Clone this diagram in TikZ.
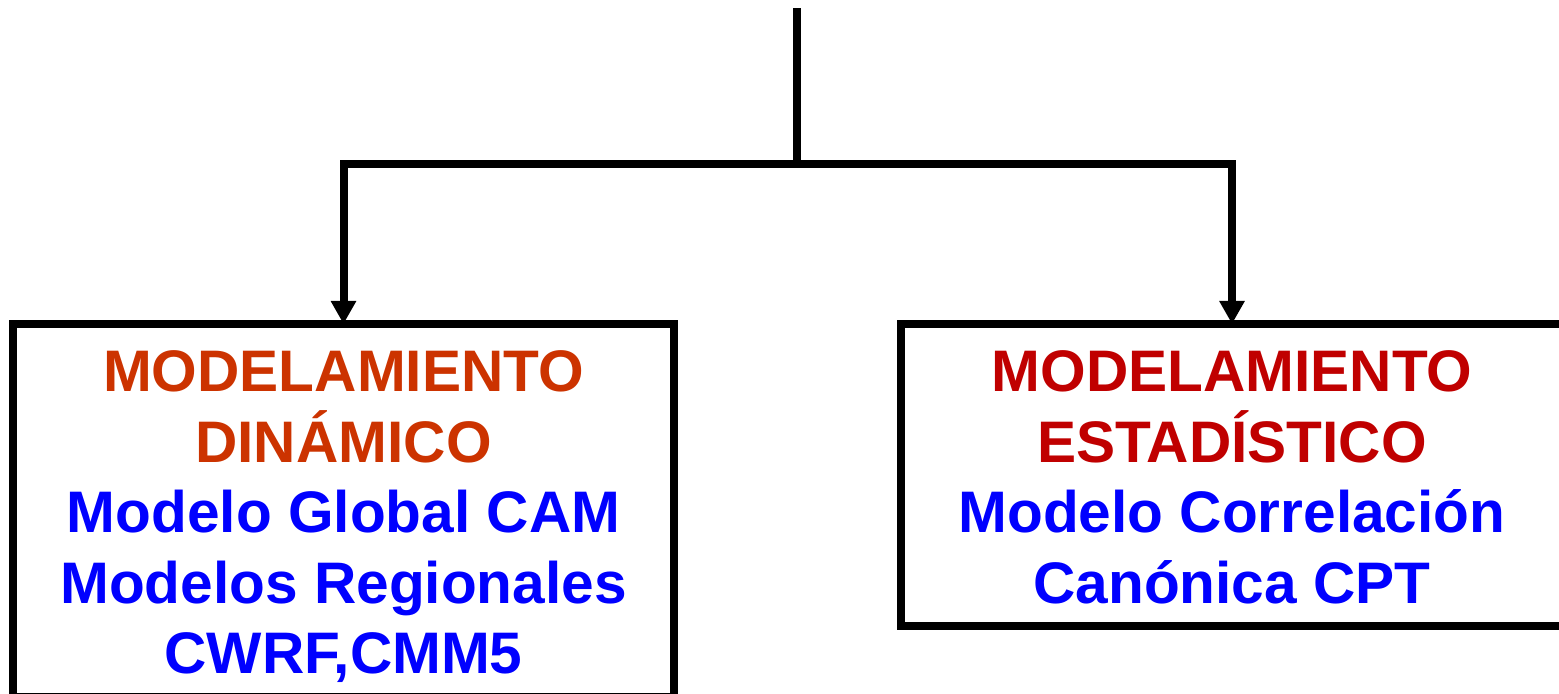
\documentclass[tikz,border=0pt]{standalone}
\usepackage{fontspec}
\setmainfont{Liberation Sans}
\usetikzlibrary{arrows.meta}
\definecolor{dinred}{RGB}{204,51,0}
\definecolor{estred}{RGB}{192,0,0}
\definecolor{txtblue}{RGB}{0,0,255}
\begin{document}
\begin{tikzpicture}[x=0.5pt,y=-0.5pt,
  conn/.style={line width=4pt,line join=miter,line cap=butt},
  arrowconn/.style={conn,-{Triangle[length=11.5pt,width=12pt]}},
  boxnode/.style={draw,line width=4pt,inner sep=0pt,outer sep=0pt,rectangle,fill=none},
  boxtext/.style={inner sep=0pt,outer sep=0pt,align=center,anchor=north,
    font=\fontsize{29.3}{35.25}\selectfont\bfseries}]
\useasboundingbox (0,0) rectangle (1559,694);
\clip (0,0) rectangle (1559,694);
\fill[white] (0,0) rectangle (1559,694);
% boxes
\node[boxnode,minimum width=330.5pt,minimum height=186.5pt] (dyn) at (343.5,510.5) {};
\node[boxnode,minimum width=331pt,minimum height=151pt] (est) at (1232,475) {};
% texts
\node[boxtext] (dyntext) at (343.5,351) {\textcolor{dinred}{MODELAMIENTO}\\\textcolor{dinred}{DINÁMICO}\\\textcolor{txtblue}{Modelo Global CAM}\\\textcolor{txtblue}{Modelos Regionales}\\\textcolor{txtblue}{CWRF,CMM5}};
\node[boxtext] (esttext) at (1232,351) {\textcolor{estred}{MODELAMIENTO}\\\textcolor{estred}{ESTADÍSTICO}\\\textcolor{txtblue}{Modelo Correlación}\\\textcolor{txtblue}{Canónica CPT}};
% connectors
\coordinate (top) at (797,8.5);
\coordinate (junction) at (797,164);
\draw[conn] (top) -- (junction);
\draw[arrowconn] (junction) -| (dyn.north);
\draw[arrowconn] (junction) -| (est.north);
\end{tikzpicture}
\end{document}
